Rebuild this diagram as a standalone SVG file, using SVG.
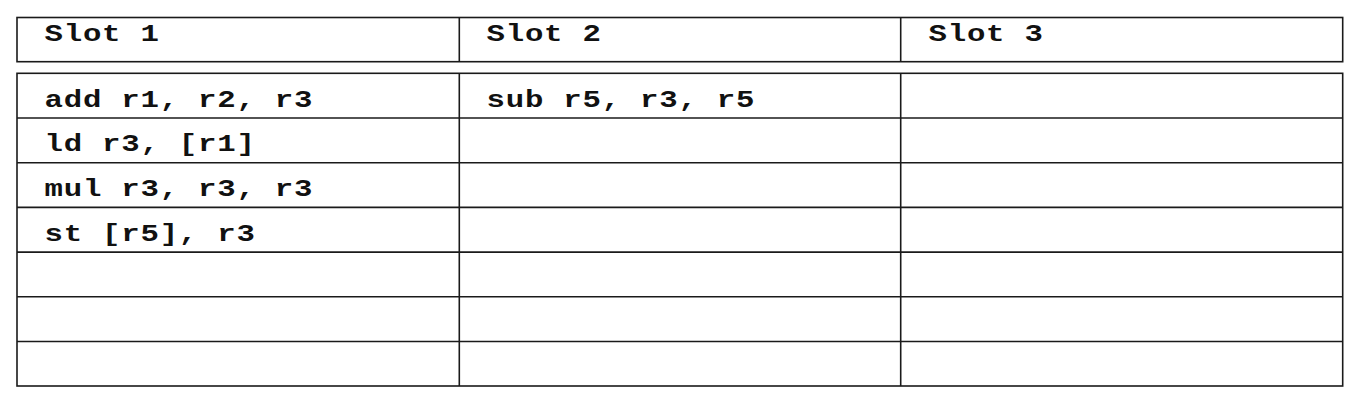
<svg xmlns="http://www.w3.org/2000/svg" width="1364" height="406" viewBox="0 0 1364 406">
<style>
.b{fill:none;stroke:#1a1a1a;stroke-width:1.6}
.t{font-family:"Liberation Mono","DejaVu Sans Mono",monospace;font-weight:bold;font-size:24px;letter-spacing:0.6px;fill:#111}
</style>
<rect width="1364" height="406" fill="#fff"/>
<g id="header">
<rect class="b" x="17" y="17.5" width="1325.7" height="44.2"/>
<line class="b" x1="459.3" y1="17.5" x2="459.3" y2="61.7"/>
<line class="b" x1="900.7" y1="17.5" x2="900.7" y2="61.7"/>
<text class="t" transform="translate(44.5,41) scale(1.28,1)">Slot 1</text>
<text class="t" transform="translate(486.5,41) scale(1.28,1)">Slot 2</text>
<text class="t" transform="translate(928.5,41) scale(1.28,1)">Slot 3</text>
</g>
<g id="body">
<rect class="b" x="17" y="73.3" width="1325.7" height="312.7"/>
<line class="b" x1="459.3" y1="73.3" x2="459.3" y2="386"/>
<line class="b" x1="900.7" y1="73.3" x2="900.7" y2="386"/>
<line class="b" x1="17" y1="118" x2="1342.7" y2="118"/>
<line class="b" x1="17" y1="162.7" x2="1342.7" y2="162.7"/>
<line class="b" x1="17" y1="207.4" x2="1342.7" y2="207.4"/>
<line class="b" x1="17" y1="252.1" x2="1342.7" y2="252.1"/>
<line class="b" x1="17" y1="296.8" x2="1342.7" y2="296.8"/>
<line class="b" x1="17" y1="341.5" x2="1342.7" y2="341.5"/>
</g>
<g id="row1"><text class="t" transform="translate(44.5,106.7) scale(1.28,1)">add r1, r2, r3</text><text class="t" transform="translate(486.5,106.7) scale(1.28,1)">sub r5, r3, r5</text></g>
<g id="row2"><text class="t" transform="translate(44.5,151.4) scale(1.28,1)">ld r3, [r1]</text></g>
<g id="row3"><text class="t" transform="translate(44.5,196.1) scale(1.28,1)">mul r3, r3, r3</text></g>
<g id="row4"><text class="t" transform="translate(44.5,240.8) scale(1.28,1)">st [r5], r3</text></g>
<g id="connectors"/>
</svg>
